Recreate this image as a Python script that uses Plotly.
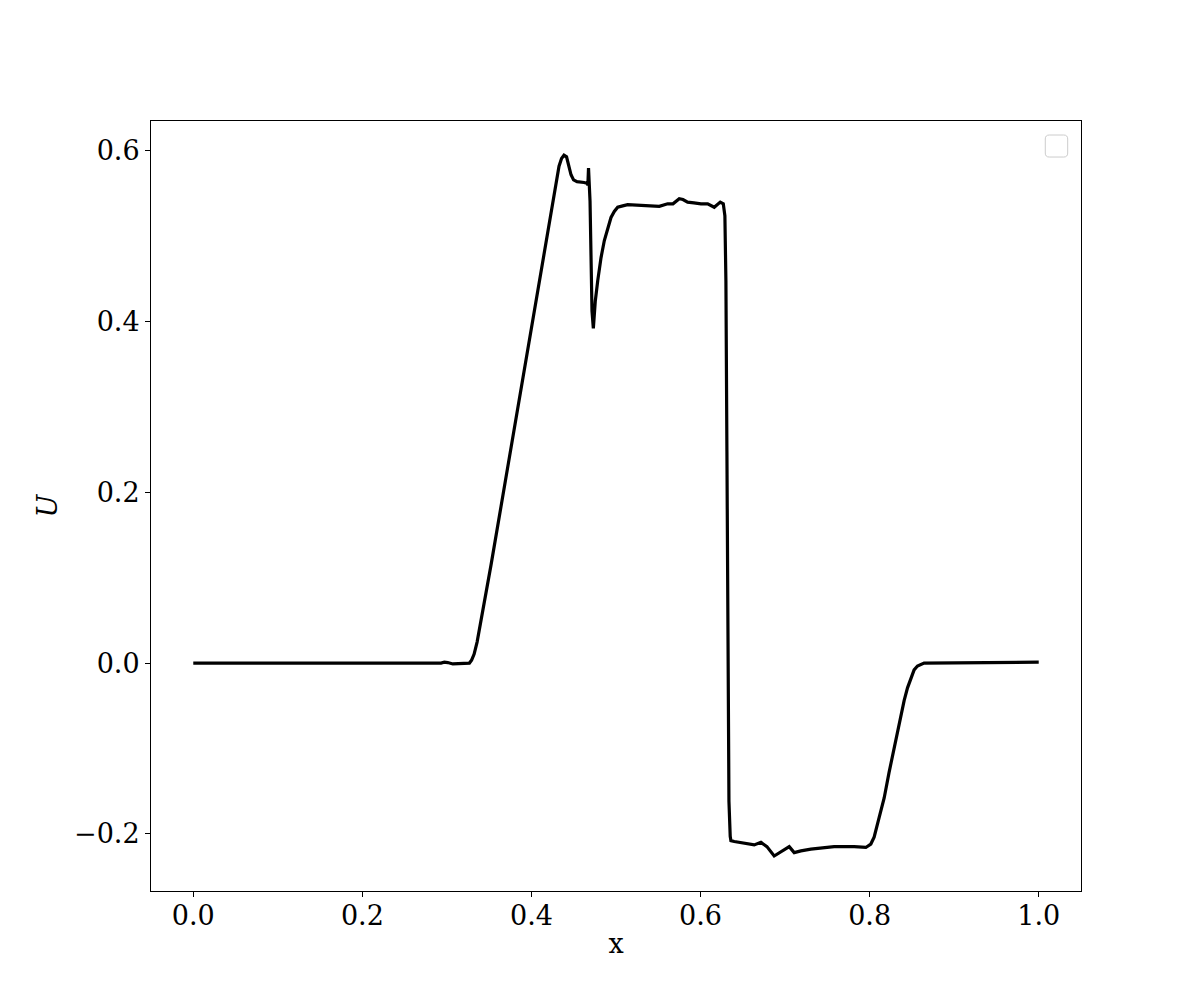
import plotly.graph_objects as go

# solution profile
x_vals = [0.0, 0.293, 0.297, 0.301, 0.307, 0.319, 0.324, 0.3266, 0.3292, 0.3322,
          0.3357, 0.3404, 0.3463, 0.3522, 0.3641, 0.3759, 0.3877, 0.3995, 0.4113,
          0.4232, 0.4291, 0.4326, 0.4356, 0.4385, 0.4415, 0.4444, 0.4468, 0.4498,
          0.4539, 0.4622, 0.4657, 0.4667, 0.4675, 0.4693, 0.4704, 0.4716, 0.4732,
          0.4744, 0.4755, 0.4784, 0.4823, 0.4862, 0.4902, 0.4941, 0.4980, 0.5020,
          0.5079, 0.5138, 0.5512, 0.5611, 0.5674, 0.5748, 0.5792, 0.5847, 0.5922,
          0.6005, 0.6084, 0.6162, 0.6233, 0.6269, 0.6288, 0.6300, 0.6312, 0.6324,
          0.6336, 0.6351, 0.6359, 0.6399, 0.6517, 0.6635, 0.6714, 0.6785, 0.6871,
          0.6950, 0.7021, 0.7049, 0.7108, 0.7187, 0.7305, 0.7580, 0.7817, 0.7955,
          0.8014, 0.8053, 0.8112, 0.8172, 0.8230, 0.8290, 0.8349, 0.8408, 0.8448,
          0.8487, 0.8526, 0.8566, 0.8605, 0.8644, 1.0]
u_vals = [0.0, 0.0, 0.001, 0.0006, -0.001, -0.0006, 0.0, 0.0, 0.0035, 0.0105,
          0.0246, 0.050, 0.084, 0.115, 0.184, 0.253, 0.322, 0.391, 0.461,
          0.530, 0.5625, 0.582, 0.591, 0.595, 0.593, 0.582, 0.572, 0.566,
          0.564, 0.563, 0.562, 0.560, 0.580, 0.541, 0.471, 0.4125, 0.392,
          0.410, 0.424, 0.448, 0.475, 0.495, 0.510, 0.522, 0.529, 0.534,
          0.5356, 0.537, 0.535, 0.538, 0.538, 0.544, 0.543, 0.540, 0.539,
          0.538, 0.538, 0.534, 0.540, 0.538, 0.524, 0.448, 0.248, 0.014,
          -0.162, -0.203, -0.208, -0.209, -0.211, -0.213, -0.210, -0.215, -0.226,
          -0.221, -0.216, -0.215, -0.222, -0.220, -0.218, -0.215, -0.215, -0.216,
          -0.212, -0.204, -0.181, -0.158, -0.128, -0.099, -0.072, -0.044, -0.029,
          -0.017, -0.008, -0.0035, -0.0012, 0.0, 0.001]

x_ticks = [0.0, 0.2, 0.4, 0.6, 0.8, 1.0]
y_ticks = [-0.2, 0.0, 0.2, 0.4, 0.6]

serif = "DejaVu Serif"

fig = go.Figure()
fig.add_trace(
    go.Scatter(x=x_vals, y=u_vals, mode='lines',
               line=dict(color='black', width=3.2), showlegend=False)
)

axis_style = dict(showline=True, mirror=True, linecolor='black', linewidth=1,
                  ticks='outside', ticklen=5, tickwidth=1, tickcolor='black',
                  showgrid=False, zeroline=False,
                  tickfont=dict(family=serif, size=27, color='black'))

fig.update_xaxes(range=[-0.05, 1.05], tickvals=x_ticks,
                 ticktext=['%.1f' % t for t in x_ticks],
                 ticklabelstandoff=-4,
                 title=dict(text='x', font=dict(family=serif, size=27, color='black'), standoff=3),
                 **axis_style)
fig.update_yaxes(range=[-0.267, 0.635], tickvals=y_ticks,
                 ticktext=[('%.1f' % t).replace('-', '\u2212') for t in y_ticks],
                 title=dict(text='<i>U</i>', font=dict(family=serif, size=27, color='black'), standoff=8),
                 **axis_style)

# empty legend frame, as in the reference
fig.add_shape(type='path', xref='paper', yref='paper',
              path='M 0.9659,0.9818 L 0.9814,0.9818 Q 0.9857,0.9818 0.9857,0.9766 '
                   'L 0.9857,0.9584 Q 0.9857,0.9532 0.9814,0.9532 L 0.9659,0.9532 '
                   'Q 0.9616,0.9532 0.9616,0.9584 L 0.9616,0.9766 Q 0.9616,0.9818 0.9659,0.9818 Z',
              line=dict(color='#cccccc', width=1), fillcolor='rgba(255,255,255,0.8)')

# margins shifted by the page's 7 px body offset
fig.update_layout(
    width=1200, height=1000,
    margin=dict(l=143, r=127, t=113, b=117),
    paper_bgcolor='white', plot_bgcolor='white',
    font=dict(family=serif, color='black'),
)

fig.write_html("out.html")
